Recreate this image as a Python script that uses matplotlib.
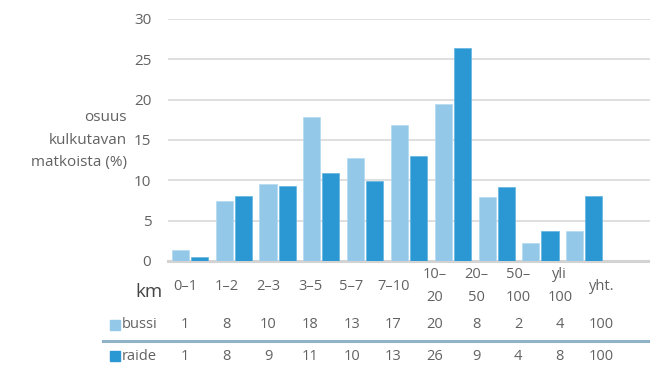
import numpy as np
import matplotlib.pyplot as plt

plt.rcParams['font.family'] = ['Open Sans', 'DejaVu Sans']

# distance classes (last column is the total, no bars)
km_labels = ['0–1', '1–2', '2–3', '3–5', '5–7', '7–10', '10–\n20', '20–\n50', '50–\n100', 'yli\n100', 'yht.']
# bar heights (%)
bussi_share = [1.4, 7.5, 9.6, 17.8, 12.8, 16.8, 19.5, 7.9, 2.2, 3.7]
raide_share = [0.5, 8.1, 9.3, 10.9, 9.9, 13.0, 26.4, 9.2, 3.7, 8.1]
# rounded values shown in the table
bussi_table = ['1', '8', '10', '18', '13', '17', '20', '8', '2', '4', '100']
raide_table = ['1', '8', '9', '11', '10', '13', '26', '9', '4', '8', '100']
yticks = [0, 5, 10, 15, 20, 25, 30]

c_bussi = '#93c8e8'
c_raide = '#2b98d4'
c_text = '#626262'
W, H = 650, 365

fig = plt.figure(figsize=(6.5, 3.65), dpi=100)
ax = fig.add_axes([168 / W, 1 - 261 / H, 1 - 168 / W, (261 - 19) / H])

x = np.arange(len(bussi_share))
ax.bar(x - 0.217, bussi_share, width=0.39, color=c_bussi, edgecolor='#b5daf0', linewidth=0.5, zorder=3)
ax.bar(x + 0.217, raide_share, width=0.39, color=c_raide, edgecolor='#62b3e0', linewidth=0.5, zorder=3)

ax.set_xlim(-0.5, len(km_labels) - 0.5)
ax.set_ylim(0, 30)
ax.set_yticks(yticks)
ax.set_xticks([])
ax.tick_params(axis='y', length=0, pad=12, labelsize=11, labelcolor=c_text)
for s in ['top', 'right', 'left']:
    ax.spines[s].set_visible(False)
ax.spines['bottom'].set_color('#d3d3d3')
ax.spines['bottom'].set_linewidth(2.2)
ax.grid(axis='y', color='#d9d9d9', linewidth=1.2, zorder=0)
ax.set_axisbelow(True)

def fx(px):
    return px / W

def fy(py):
    return 1 - py / H

fig.text(fx(127), fy(140), 'osuus\nkulkutavan\nmatkoista (%)', ha='right', va='center',
         multialignment='right', fontsize=11, color=c_text, linespacing=1.68)

# table below the chart
col_x = 185 + 41.65 * np.arange(len(km_labels))
fig.text(fx(163), fy(292), 'km', ha='right', va='center', fontsize=13.5, color='#444444')
for i, lab in enumerate(km_labels):
    fig.text(fx(col_x[i]), fy(286), lab, ha='center', va='center', fontsize=10.5,
             color=c_text, linespacing=1.75)
    fig.text(fx(col_x[i]), fy(325), bussi_table[i], ha='center', va='center', fontsize=10.5, color=c_text)
    fig.text(fx(col_x[i]), fy(356), raide_table[i], ha='center', va='center', fontsize=10.5, color=c_text)

fig.patches.append(plt.Rectangle((fx(110), fy(330)), 10 / W, 10 / H, transform=fig.transFigure,
                                 color=c_bussi))
fig.patches.append(plt.Rectangle((fx(110), fy(361)), 10 / W, 10 / H, transform=fig.transFigure,
                                 color=c_raide))
fig.text(fx(122), fy(325), 'bussi', ha='left', va='center', fontsize=10.5, color=c_text)
fig.text(fx(122), fy(356), 'raide', ha='left', va='center', fontsize=10.5, color=c_text)
fig.add_artist(plt.Line2D([fx(103), 1], [fy(341), fy(341)], transform=fig.transFigure,
                          color='#8fb3c7', linewidth=2.2))

fig.savefig('out.png', dpi=100)
